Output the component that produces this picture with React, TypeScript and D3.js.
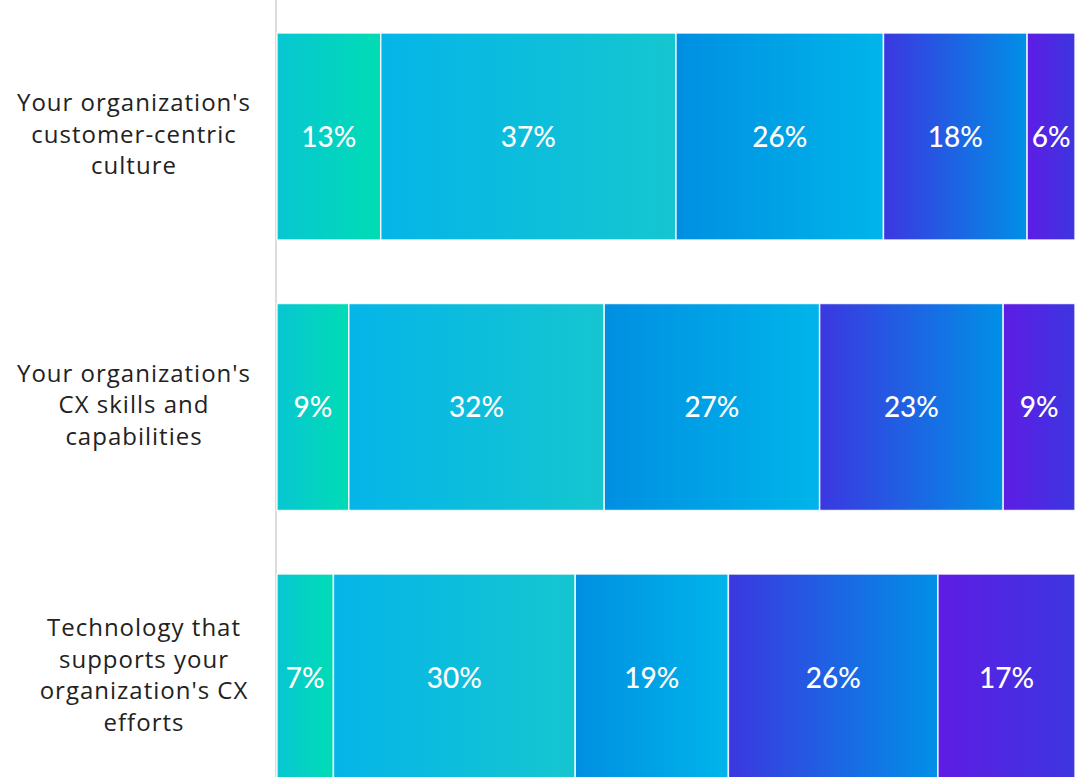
import React from "react";
import * as d3 from "d3";

const categories = [
  ["Your organization's", "customer-centric", "culture"],
  ["Your organization's", "CX skills and", "capabilities"],
  ["Technology that", "supports your", "organization's CX", "efforts"],
];
const seriesNames = ["s1", "s2", "s3", "s4", "s5"];
const row1 = [13, 37, 26, 18, 6];
const row2 = [9, 32, 27, 23, 9];
const row3 = [7, 30, 19, 26, 17];
const rows = [row1, row2, row3];
// gradient stops per series: [left, right]
const gradLeft = ["#08c6d2", "#05b5e8", "#008fe2", "#3b37e0", "#5e1ce4"];
const gradRight = ["#00dcb4", "#15c6d0", "#00b5ea", "#0090e6", "#3c36e0"];

const W = 1080;
const H = 777;
const labelCenters = [134, 134, 144];

export default function App() {
  const x = d3.scaleLinear().domain([0, 1]).range([277, 1075]);
  const y = d3
    .scaleBand<number>()
    .domain([0, 1, 2])
    .range([33, 781])
    .paddingInner(0.2348)
    .paddingOuter(0);
  const bw = y.bandwidth();
  const stacks = rows.map((r) => {
    const total = d3.sum(r);
    let acc = 0;
    return r.map((v, i) => {
      const x0 = acc / total;
      acc += v;
      return { v, i, x0, x1: acc / total };
    });
  });
  return (
    <svg
      width={W}
      height={H}
      style={{ position: "absolute", left: 0, top: 0, background: "#fff" }}
    >
      <defs>
        {seriesNames.map((s, i) => (
          <linearGradient id={"g" + i} key={s} x1="0" x2="1" y1="0" y2="0">
            <stop offset="0" stopColor={gradLeft[i]} />
            <stop offset="1" stopColor={gradRight[i]} />
          </linearGradient>
        ))}
      </defs>
      <line x1={276} x2={276} y1={0} y2={H} stroke="#dcdcdc" strokeWidth={2} />
      {stacks.map((segs, r) => {
        const y0 = y(r)!;
        return (
          <g key={r}>
            {segs.map((s) => (
              <g key={s.i}>
                <rect
                  x={x(s.x0)}
                  y={y0}
                  width={x(s.x1) - x(s.x0)}
                  height={bw}
                  fill={`url(#g${s.i})`}
                  stroke="#ffffff"
                  strokeOpacity={0.85}
                  strokeWidth={1.5}
                />
                <text
                  x={(x(s.x0) + x(s.x1)) / 2}
                  y={y0 + bw / 2}
                  dy="0.36em"
                  textAnchor="middle"
                  fill="#fff"
                  fontFamily="Lato, sans-serif"
                  fontWeight={500}
                  fontSize={28}
                >
                  {s.v}%
                </text>
              </g>
            ))}
            <text
              fontFamily="'Open Sans', sans-serif"
              fontSize={24}
              letterSpacing={1}
              fill="#222"
              textAnchor="middle"
            >
              {categories[r].map((line, li) => (
                <tspan
                  key={li}
                  x={labelCenters[r]}
                  y={y0 + bw / 2 - 2.5 + (li - (categories[r].length - 1) / 2) * 31.5}
                  dy="0.36em"
                >
                  {line}
                </tspan>
              ))}
            </text>
          </g>
        );
      })}
    </svg>
  );
}
